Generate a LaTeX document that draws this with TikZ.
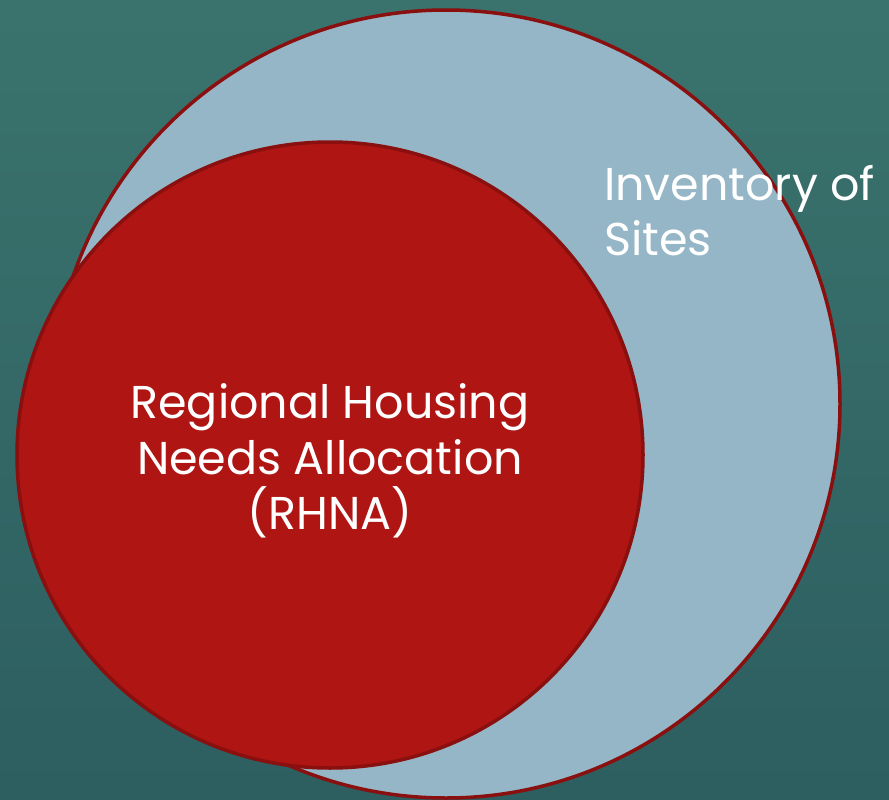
\documentclass[tikz,border=0pt]{standalone}
\usepackage{fontspec}
\setmainfont{Poppins}
\definecolor{bgTop}{HTML}{3A736D}
\definecolor{bgBot}{HTML}{2D5E60}
\definecolor{sky}{HTML}{95B6C6}
\definecolor{rimred}{HTML}{8A0F0F}
\definecolor{fillred}{HTML}{AE1513}
\begin{document}
\begin{tikzpicture}[x=1pt,y=-1pt,
  circbase/.style={draw=rimred,line width=3.5pt},
  lbl/.style={text=white,font=\fontsize{46}{55}\selectfont,align=center,inner sep=0pt}]
\useasboundingbox (0,0) rectangle (889,800);
\shade[top color=bgTop,bottom color=bgBot] (0,0) rectangle (889,800);
\node[circbase,circle,fill=sky,minimum size=788pt,inner sep=0pt] (inv) at (446,404) {};
\node[circbase,circle,fill=fillred,minimum size=626pt,inner sep=0pt] (rhna) at (330,455) {};
\node[lbl,anchor=base] (t1) at (330,418) {Regional Housing};
\node[lbl,anchor=base] (t2) at (330,474) {Needs Allocation};
\node[lbl,anchor=base] (t3) at (330,529) {(RHNA)};
\node[lbl,anchor=base west,align=left] (s1) at (604,200) {Inventory of};
\node[lbl,anchor=base west,align=left] (s2) at (604,255) {Sites};
\end{tikzpicture}
\end{document}
